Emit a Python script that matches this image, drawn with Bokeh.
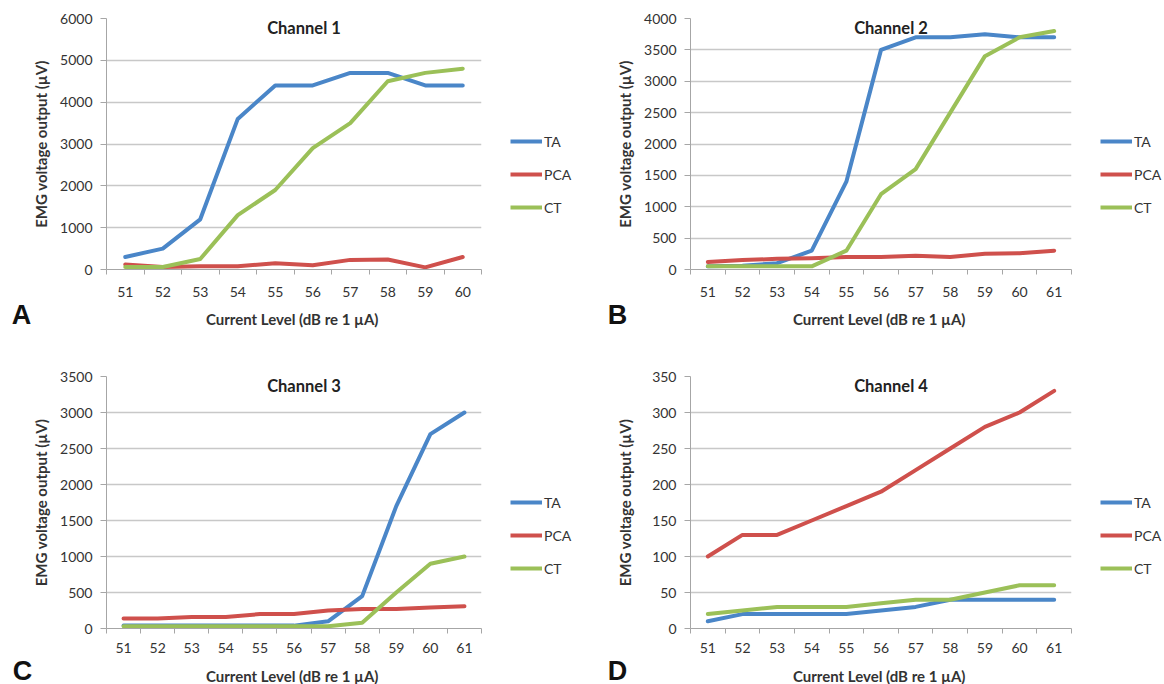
from bokeh.plotting import figure
from bokeh.models import Label, Legend, LegendItem, FixedTicker, SingleIntervalTicker, Range1d
from bokeh.layouts import row, column
from bokeh.embed import file_html
from bokeh.resources import INLINE

# ---------------- data ----------------
levels_ch1 = [51, 52, 53, 54, 55, 56, 57, 58, 59, 60]
levels_ch234 = [51, 52, 53, 54, 55, 56, 57, 58, 59, 60, 61]

series_names = ["TA", "PCA", "CT"]
series_colors = ["#4A86C8", "#CF504C", "#9BC058"]

ch1_ta = [300, 500, 1200, 3600, 4400, 4400, 4700, 4700, 4400, 4400]
ch1_pca = [120, 60, 80, 80, 150, 100, 230, 240, 50, 300]
ch1_ct = [60, 60, 250, 1300, 1900, 2900, 3500, 4500, 4700, 4800]

ch2_ta = [50, 60, 100, 300, 1400, 3500, 3700, 3700, 3750, 3700, 3700]
ch2_pca = [120, 150, 170, 180, 200, 200, 220, 200, 250, 260, 300]
ch2_ct = [50, 50, 50, 50, 300, 1200, 1600, 2500, 3400, 3700, 3800]

ch3_ta = [40, 40, 40, 40, 40, 40, 100, 450, 1700, 2700, 3000]
ch3_pca = [140, 140, 160, 160, 200, 200, 250, 270, 270, 290, 310]
ch3_ct = [30, 30, 30, 30, 30, 30, 30, 80, 500, 900, 1000]

ch4_ta = [10, 20, 20, 20, 20, 25, 30, 40, 40, 40, 40]
ch4_pca = [100, 130, 130, 150, 170, 190, 220, 250, 280, 300, 330]
ch4_ct = [20, 25, 30, 30, 30, 35, 40, 40, 50, 60, 60]

panel_titles = ["Channel 1", "Channel 2", "Channel 3", "Channel 4"]
panel_letters = ["A", "B", "C", "D"]
y_max = [6000, 4000, 3500, 350]
y_step = [1000, 500, 500, 50]
x_axis_title = "Current Level  (dB re 1 \u00b5A)"
y_axis_title = "EMG voltage output (\u00b5V)"

FONT = "Lato"
AXIS_GRAY = "#A6A6A6"
GRID_GRAY = "#C8C8C8"
TEXT = "#333333"


def blank(width, height, xr, yr):
    p = figure(width=width, height=height, x_range=xr, y_range=yr,
               x_axis_type=None, y_axis_type=None, min_border=0,
               output_backend="svg", toolbar_location=None, tools="")
    p.outline_line_color = None
    p.background_fill_color = "white"
    p.border_fill_color = "white"
    return p


def make_panel(idx, levels, vals, frame, origin, panel_size, x_std, yl_std, letter_dx, letter_dy, title_dy):
    fl, ft, fw, fh = frame            # frame on page
    ox, oy = origin                   # panel origin on page
    PW, PH = panel_size
    bl, bt, br, bb = fl - ox, ft - oy, 7, x_std + 17
    x0, x1 = levels[0] - 0.5, levels[-1] + 0.5
    ymax = y_max[idx]

    p = figure(frame_width=fw, frame_height=fh, x_range=Range1d(x0, x1), y_range=Range1d(0, ymax),
               output_backend="svg", toolbar_location=None, tools="",
               min_border_left=bl, min_border_right=br, min_border_top=bt, min_border_bottom=bb)
    p.outline_line_color = None
    p.background_fill_color = "white"
    p.border_fill_color = "white"
    p.xgrid.visible = False
    p.ygrid.grid_line_color = GRID_GRAY
    p.ygrid.grid_line_width = 1.5

    xa = p.xaxis[0]
    xa.ticker = FixedTicker(ticks=levels, minor_ticks=[l - 0.5 for l in levels] + [levels[-1] + 0.5])
    xa.major_tick_out = 0
    xa.major_tick_in = 0
    xa.minor_tick_out = 5
    xa.minor_tick_in = 0
    xa.minor_tick_line_color = AXIS_GRAY
    xa.axis_line_color = AXIS_GRAY
    xa.major_label_text_font = FONT
    xa.major_label_text_font_size = "14px"
    xa.major_label_text_color = TEXT
    xa.major_label_standoff = x_std

    ya = p.yaxis[0]
    ya.ticker = SingleIntervalTicker(interval=y_step[idx], num_minor_ticks=0)
    ya.major_tick_out = 6
    ya.major_tick_in = 0
    ya.major_tick_line_color = AXIS_GRAY
    ya.minor_tick_line_color = None
    ya.axis_line_color = AXIS_GRAY
    ya.major_label_text_font = FONT
    ya.major_label_text_font_size = "14px"
    ya.major_label_text_color = TEXT
    ya.major_label_standoff = 8
    ya.axis_label = y_axis_title
    ya.axis_label_text_font = FONT
    ya.axis_label_text_font_style = "bold"
    ya.axis_label_text_font_size = "15px"
    ya.axis_label_text_color = TEXT
    ya.axis_label_standoff = yl_std

    for name, col, v in zip(series_names, series_colors, vals):
        p.line(levels, v, line_color=col, line_width=4, line_join="round", line_cap="round")

    # chart title inside the frame
    tx = x0 + (fw / 2 + 10) / fw * (x1 - x0)
    ty = ymax - 9 / fh * ymax
    p.add_layout(Label(x=tx, y=ty, text=panel_titles[idx], text_align="center", text_baseline="middle",
                       text_font=FONT, text_font_style="bold", text_font_size="16.5px",
                       text_color="#222222"))

    chart_w = bl + fw + br
    chart_h = bt + fh + bb

    # legend column to the right of the chart; the series are drawn out of its view
    lw = PW - chart_w
    lg = blank(lw, chart_h, Range1d(-lw, 0), Range1d(0, chart_h))
    items = []
    for name, col, v in zip(series_names, series_colors, vals):
        r = lg.line(levels, v, line_color=col, line_width=4)
        items.append(LegendItem(label=name, renderers=[r]))
    legend_top = bt + 113          # from the top of the chart figure
    legend_h = 3 * 20 + 2 * 13
    lg.add_layout(Legend(items=items, location=(22, chart_h - legend_top - legend_h - 30),
                         glyph_width=32, glyph_height=20, label_height=20, label_standoff=2,
                         spacing=13, padding=0, margin=0,
                         border_line_alpha=0, background_fill_alpha=0,
                         label_text_font=FONT, label_text_font_size="14px", label_text_color=TEXT))

    # strip below: panel letter and x-axis title
    sh = PH - chart_h
    st = blank(PW, sh, Range1d(0, PW), Range1d(sh, 0))
    st.add_layout(Label(x=letter_dx, y=letter_dy, text=panel_letters[idx], text_align="center",
                        text_baseline="middle", text_font="Liberation Sans", text_font_style="bold",
                        text_font_size="27px", text_color="#111111"))
    st.add_layout(Label(x=bl + fw / 2, y=title_dy, text=x_axis_title, text_align="center",
                        text_baseline="middle", text_font=FONT, text_font_style="bold",
                        text_font_size="15px", text_color=TEXT))

    return column(row(p, lg, spacing=0), st, spacing=0)


pa = make_panel(0, levels_ch1, [ch1_ta, ch1_pca, ch1_ct], (106, 18, 375, 251), (0, 0), (582, 342),
                12, 7, 21, 15.5, 19)
pb = make_panel(1, levels_ch234, [ch2_ta, ch2_pca, ch2_ct], (690, 18, 381, 251), (582, 0), (582, 342),
                12, 7, 35, 15.5, 19)
pc = make_panel(2, levels_ch234, [ch3_ta, ch3_pca, ch3_ct], (106, 375, 375, 252), (0, 342), (582, 342),
                9, 7, 22, 15.5, 20)
pd_ = make_panel(3, levels_ch234, [ch4_ta, ch4_pca, ch4_ct], (690, 375, 381, 252), (582, 342), (582, 342),
                 9, 15, 35, 15.5, 20)

layout = column(row(pa, pb, spacing=0), row(pc, pd_, spacing=0), spacing=0)
open("out.html", "w").write(file_html(layout, INLINE))
